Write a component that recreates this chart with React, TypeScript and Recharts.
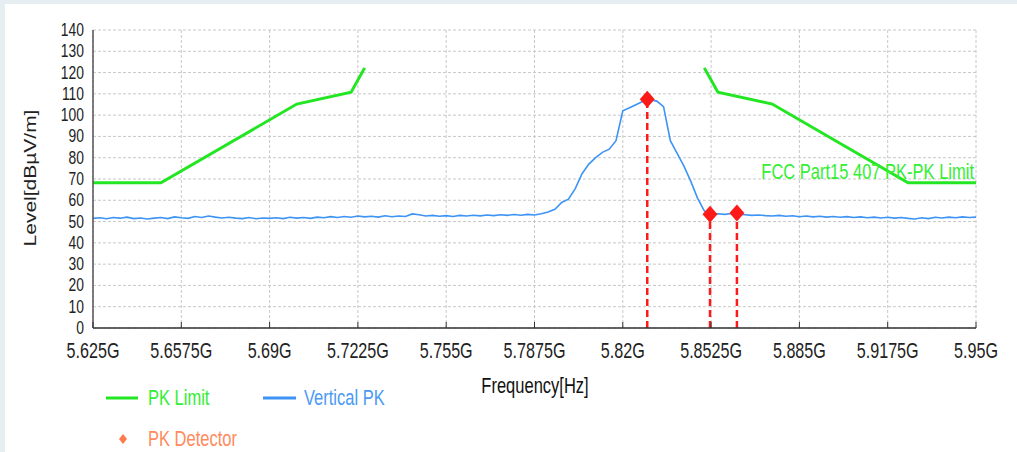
import React from 'react';
import { ComposedChart, Line, Scatter, XAxis, YAxis, CartesianGrid, ReferenceLine } from 'recharts';

// x axis ticks (GHz) and y axis ticks (dBµV/m)
const xTicks = [5.625, 5.6575, 5.69, 5.7225, 5.755, 5.7875, 5.82, 5.8525, 5.885, 5.9175, 5.95];
const yTicks = [0, 10, 20, 30, 40, 50, 60, 70, 80, 90, 100, 110, 120, 130, 140];

// FCC 15.407 PK limit mask, null = gap over the band
const limitFreq = [5.625, 5.65, 5.7, 5.72, 5.725, 5.79, 5.85, 5.855, 5.875, 5.925, 5.95];
const limitLevel = [68.2, 68.2, 105.2, 110.8, 122.2, null, 122.2, 110.8, 105.2, 68.2, 68.2];

// Vertical PK trace
const traceFreq = [
  5.625, 5.6275, 5.63, 5.6325, 5.635, 5.6375, 5.64, 5.6425, 5.645, 5.6475,
  5.65, 5.6525, 5.655, 5.6575, 5.66, 5.6625, 5.665, 5.6675, 5.67, 5.6725,
  5.675, 5.6775, 5.68, 5.6825, 5.685, 5.6875, 5.69, 5.6925, 5.695, 5.6975,
  5.7, 5.7025, 5.705, 5.7075, 5.71, 5.7125, 5.715, 5.7175, 5.72, 5.7225,
  5.725, 5.7275, 5.73, 5.7325, 5.735, 5.7375, 5.74, 5.7425, 5.745, 5.7475,
  5.75, 5.7525, 5.755, 5.7575, 5.76, 5.7625, 5.765, 5.7675, 5.77, 5.7725,
  5.775, 5.7775, 5.78, 5.7825, 5.785, 5.7875, 5.79, 5.7925, 5.795, 5.7975,
  5.8, 5.8025, 5.805, 5.8075, 5.81, 5.8125, 5.815, 5.8175, 5.82, 5.8225,
  5.825, 5.8275, 5.83, 5.8325, 5.835, 5.8375, 5.84, 5.8425, 5.845, 5.8475,
  5.85, 5.8525, 5.855, 5.8575, 5.86, 5.8625, 5.865, 5.8675, 5.87, 5.8725,
  5.875, 5.8775, 5.88, 5.8825, 5.885, 5.8875, 5.89, 5.8925, 5.895, 5.8975,
  5.9, 5.9025, 5.905, 5.9075, 5.91, 5.9125, 5.915, 5.9175, 5.92, 5.9225,
  5.925, 5.9275, 5.93, 5.9325, 5.935, 5.9375, 5.94, 5.9425, 5.945, 5.9475,
  5.95,
];
const traceLevel = [
  51.5, 51.8, 51.3, 51.9, 51.6, 52.1, 51.4, 51.7, 51.2, 51.6,
  51.9, 51.4, 52.2, 51.8, 51.5, 52.4, 51.9, 52.6, 52.1, 51.7,
  52.0, 51.6, 51.4, 51.9, 51.3, 51.7, 51.5, 51.8, 51.4, 52.0,
  51.6, 51.9, 51.5, 52.1, 51.8, 52.3, 51.9, 52.4, 52.0, 52.6,
  52.2, 52.5, 52.1, 52.7, 52.3, 52.6, 52.4, 53.6, 53.2, 52.6,
  52.9, 52.5, 52.8, 52.4, 52.9, 52.6, 53.0, 52.7, 53.1, 52.8,
  53.2, 52.9, 53.3, 53.0, 53.4, 53.1, 53.7, 54.5, 55.8, 59.0,
  60.5, 65.5, 72.5, 77.0, 80.0, 82.5, 84.0, 88.0, 102.0, 103.5,
  105.0, 106.5, 107.3, 106.6, 104.0, 88.0, 82.0, 76.0, 69.0, 61.0,
  55.0, 53.5, 53.7, 53.4, 53.8, 53.5, 53.2, 52.9, 53.1, 52.8,
  52.6, 52.9, 52.5, 52.7, 52.3, 52.6, 52.2, 52.5, 52.1, 52.4,
  52.0, 52.3, 51.9, 52.2, 51.8, 52.1, 51.7, 52.0, 51.6, 51.9,
  51.5, 51.2, 51.8, 51.4, 52.0, 51.7, 52.1, 51.8, 52.2, 51.9,
  52.1,
];

// PK detector markers
const markerFreq = [5.829, 5.8521, 5.862];
const markerLevel = [107.5, 53.4, 54.0];

const limitData = limitFreq.map((f, i) => ({ freq: f, level: limitLevel[i] }));
const traceData = traceFreq.map((f, i) => ({ freq: f, level: traceLevel[i] }));
const markerData = markerFreq.map((f, i) => ({ freq: f, level: markerLevel[i] }));

const FONT = '"Liberation Sans", Arial, sans-serif';
const GREEN = '#22e622';
const BLUE = '#3d94f5';
const RED = '#ff1a1a';

const XTick = (props: any) => {
  const { x, y, payload } = props;
  return (
    <g>
      <line x1={x} x2={x} y1={y} y2={y - 6} stroke="#333" strokeWidth={1} />
      <text
        transform={`translate(${x},${y + 30}) scale(0.75,1)`}
        textAnchor="middle"
        fontFamily={FONT}
        fontSize={21.5}
        fill="#222"
      >
        {payload.value}G
      </text>
    </g>
  );
};

const YTick = (props: any) => {
  const { x, y, payload } = props;
  return (
    <text
      transform={`translate(${x - 9},${y + 6}) scale(0.75,1)`}
      textAnchor="end"
      fontFamily={FONT}
      fontSize={18.5}
      fill="#222"
    >
      {payload.value}
    </text>
  );
};

const Diamond = (props: any) => {
  const { cx, cy } = props;
  return (
    <polygon
      points={`${cx},${cy - 8.5} ${cx + 7.5},${cy} ${cx},${cy + 8.5} ${cx - 7.5},${cy}`}
      fill={RED}
    />
  );
};

const label = (x: number, y: number, text: string, fill: string, anchor = 'start') => (
  <text
    transform={`translate(${x},${y}) scale(0.75,1)`}
    textAnchor={anchor}
    fontFamily={FONT}
    fontSize={22}
    fill={fill}
  >
    {text}
  </text>
);

export default function App() {
  return (
    <div style={{ position: 'absolute', left: 0, top: 0, width: 1017, height: 452, background: '#e6eef2' }}>
      <div style={{ position: 'absolute', left: 5, top: 4, right: 0, bottom: 0, background: '#ffffff' }} />
      <div style={{ position: 'absolute', left: 0, top: 0 }}>
        <ComposedChart width={1017} height={452} margin={{ top: 30, right: 41, bottom: 94, left: 0 }}>
          <CartesianGrid stroke="#c8c8c8" strokeDasharray="3 2" />
          <XAxis
            type="number"
            dataKey="freq"
            domain={[5.625, 5.95]}
            ticks={xTicks}
            interval={0}
            height={30}
            tickSize={0}
            tickMargin={0}
            tickLine={false}
            tick={(p: any) => <XTick {...p} />}
            axisLine={{ stroke: '#333', strokeWidth: 1.5 }}
            allowDataOverflow
          />
          <YAxis
            type="number"
            domain={[0, 140]}
            ticks={yTicks}
            interval={0}
            width={93}
            tickSize={0}
            tickMargin={0}
            tickLine={false}
            tick={(p: any) => <YTick {...p} />}
            axisLine={{ stroke: '#555', strokeWidth: 1.5 }}
            allowDataOverflow
          />
          <Line
            data={limitData}
            dataKey="level"
            stroke={GREEN}
            strokeWidth={3}
            dot={false}
            connectNulls={false}
            isAnimationActive={false}
          />
          <Line
            data={traceData}
            dataKey="level"
            stroke={BLUE}
            strokeWidth={1.6}
            dot={false}
            isAnimationActive={false}
          />
          {markerData.map((m) => (
            <ReferenceLine
              key={m.freq}
              segment={[{ x: m.freq, y: 0 }, { x: m.freq, y: m.level }]}
              stroke={RED}
              strokeWidth={2.5}
              strokeDasharray="7 4"
            />
          ))}
          <Scatter data={markerData} dataKey="level" shape={(p: any) => <Diamond {...p} />} isAnimationActive={false} />
        </ComposedChart>
      </div>
      <svg width={1017} height={452} style={{ position: 'absolute', left: 0, top: 0, pointerEvents: 'none' }}>
        {label(974, 179, 'FCC Part15 407 PK-PK Limit', '#33ee33', 'end')}
        {label(535, 393, 'Frequency[Hz]', '#111', 'middle')}
        <text
          transform="translate(36,178) scale(0.75,1) rotate(-90)"
          textAnchor="middle"
          fontFamily={FONT}
          fontSize={21}
          fill="#222"
        >
          Level[dBµV/m]
        </text>
        <line x1={106} x2={138} y1={398} y2={398} stroke={GREEN} strokeWidth={3} />
        {label(148, 405, 'PK Limit', '#33ee33')}
        <line x1={263} x2={296} y1={398} y2={398} stroke={BLUE} strokeWidth={3} />
        {label(304, 405, 'Vertical PK', '#4a9af5')}
        <polygon points="123,434 127,439 123,444 119,439" fill="#ff7a4a" />
        {label(148, 446, 'PK Detector', '#ff8a5c')}
      </svg>
    </div>
  );
}
